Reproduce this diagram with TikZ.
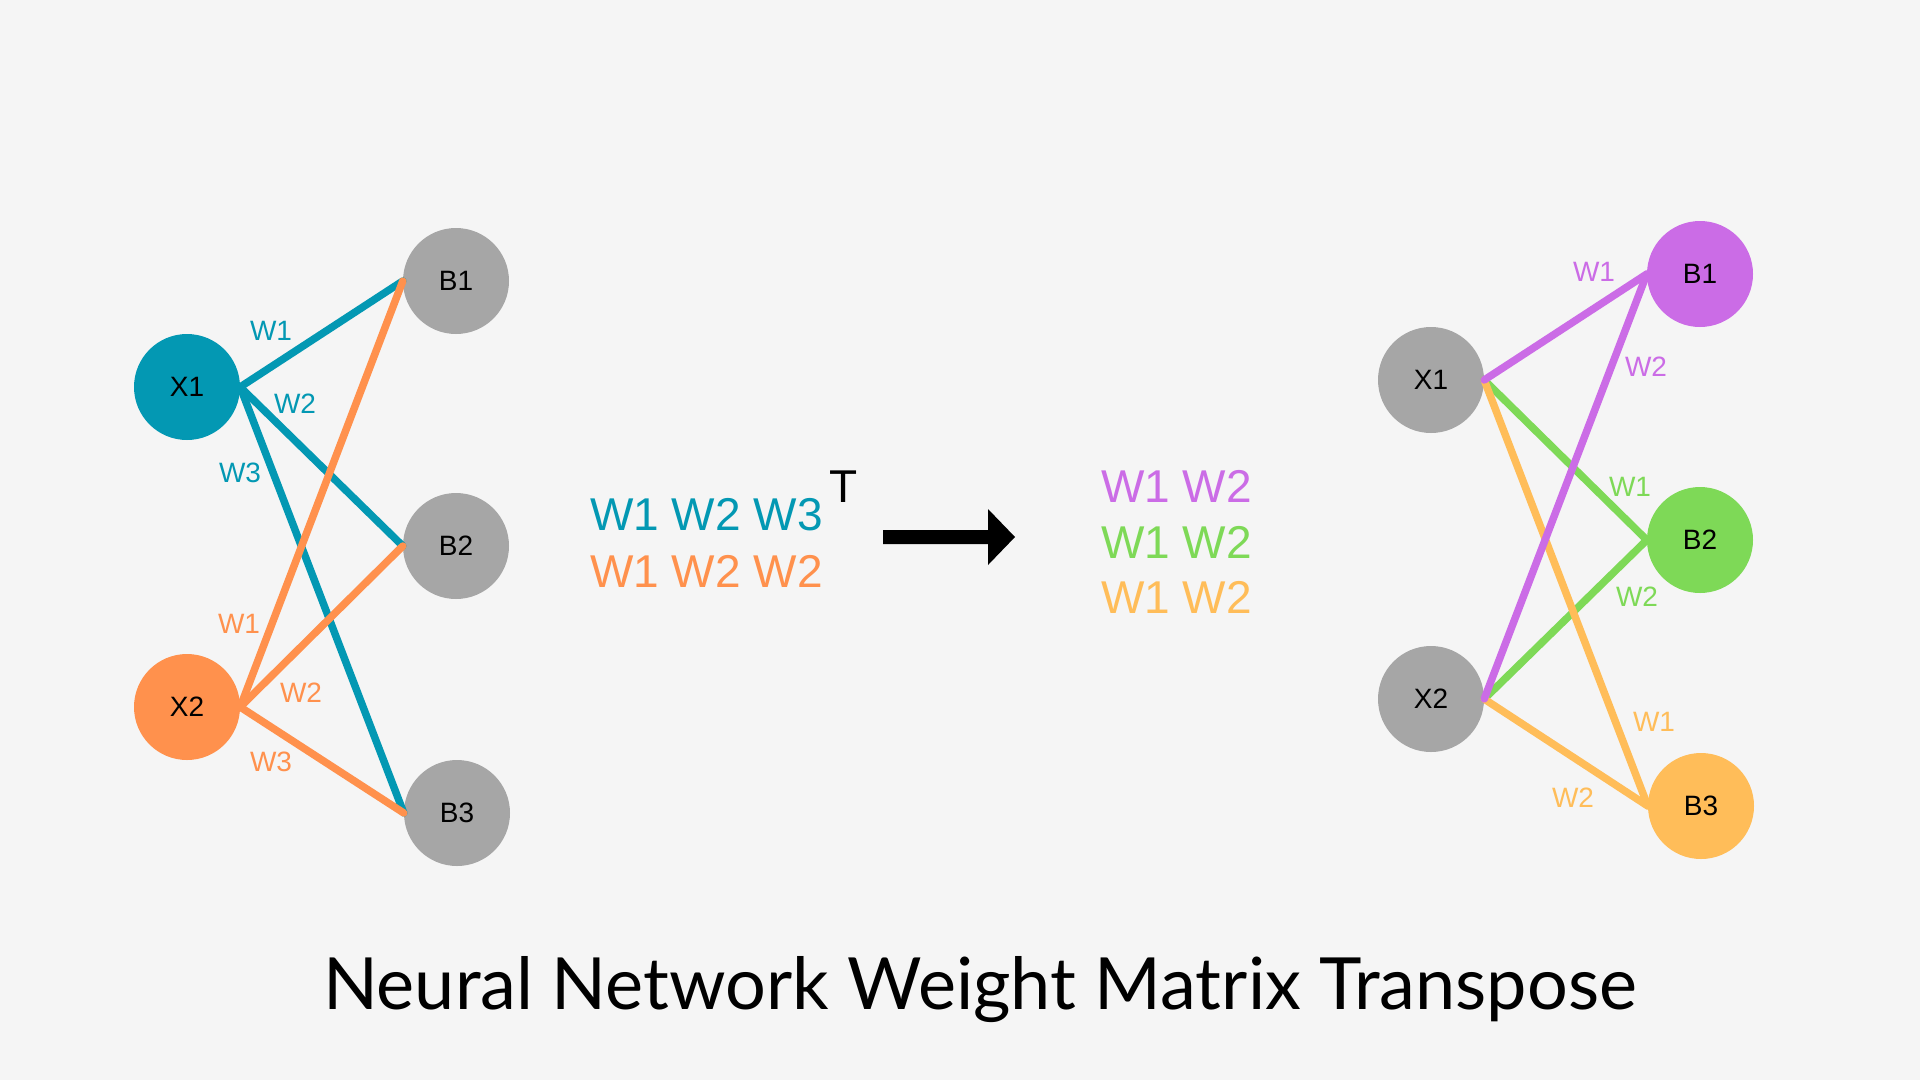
\documentclass[tikz,border=0pt]{standalone}
\usepackage{fontspec}
\setmainfont{Liberation Sans}
\newfontfamily\titlefont{Lato}
\definecolor{bgc}{HTML}{F5F5F5}
\definecolor{tealc}{HTML}{0398B3}
\definecolor{orangec}{HTML}{FF914D}
\definecolor{greyc}{HTML}{A6A6A6}
\definecolor{purplec}{HTML}{CB6CE6}
\definecolor{greenc}{HTML}{7ED957}
\definecolor{yellowc}{HTML}{FFBD59}
\tikzset{
  nd/.style={circle, minimum size=106pt, inner sep=0pt, font=\fontsize{28}{32}\selectfont, text=black},
  wlab/.style={inner sep=0pt, font=\fontsize{28}{32}\selectfont},
  mat/.style={inner sep=0pt, anchor=base west, font=\fontsize{46}{56}\selectfont},
  edge/.style={line width=7.5pt, line cap=round},
}
\begin{document}
\begin{tikzpicture}[x=1pt,y=-1pt]
\fill[bgc] (0,0) rectangle (1920,1080);
\useasboundingbox (0,0) rectangle (1920,1080);
% left network
\node[nd, fill=tealc] (lx1) at (187,387) {X1};
\node[nd, fill=orangec] (lx2) at (187,707) {X2};
\node[nd, fill=greyc] (lb1) at (456,281) {B1};
\node[nd, fill=greyc] (lb2) at (456,546) {B2};
\node[nd, fill=greyc] (lb3) at (457,813) {B3};
\draw[edge, tealc] (lx1.east) -- (lb1.west);
\draw[edge, tealc] (lx1.east) -- (lb2.west);
\draw[edge, tealc] (lx1.east) -- (lb3.west);
\draw[edge, orangec] (lx2.east) -- (lb1.west);
\draw[edge, orangec] (lx2.east) -- (lb2.west);
\draw[edge, orangec] (lx2.east) -- (lb3.west);
\node[wlab, text=tealc] (lt1) at (271,331) {W1};
\node[wlab, text=tealc] (lt2) at (295,404) {W2};
\node[wlab, text=tealc] (lt3) at (240,473) {W3};
\node[wlab, text=orangec] (lo1) at (239,624) {W1};
\node[wlab, text=orangec] (lo2) at (301,693) {W2};
\node[wlab, text=orangec] (lo3) at (271,762) {W3};
% matrix
\node[mat, text=tealc] (m1) at (590,530) {W1 W2 W3};
\node[mat, text=orangec] (m2) at (590,587) {W1 W2 W2};
\node[mat, text=black] (mt) at (829,502) {T};
% arrow
\coordinate (a0) at (883,530);
\coordinate (a1) at (988,530);
\coordinate (a2) at (988,509);
\coordinate (a3) at (1015,537);
\coordinate (a4) at (988,565);
\coordinate (a5) at (988,544);
\coordinate (a6) at (883,544);
\fill[black] (a0) -- (a1) -- (a2) -- (a3) -- (a4) -- (a5) -- (a6) -- cycle;
% transposed matrix
\node[mat, text=purplec] (r1) at (1101,502) {W1 W2};
\node[mat, text=greenc] (r2) at (1101,558) {W1 W2};
\node[mat, text=yellowc] (r3) at (1101,613) {W1 W2};
% right network
\node[nd, fill=greyc] (rx1) at (1431,380) {X1};
\node[nd, fill=greyc] (rx2) at (1431,699) {X2};
\node[nd, fill=purplec] (rb1) at (1700,274) {B1};
\node[nd, fill=greenc] (rb2) at (1700,540) {B2};
\node[nd, fill=yellowc] (rb3) at (1701,806) {B3};
\draw[edge, greenc] (rx1.east) -- (rb2.west);
\draw[edge, greenc] (rx2.east) -- (rb2.west);
\draw[edge, yellowc] (rx1.east) -- (rb3.west);
\draw[edge, yellowc] (rx2.east) -- (rb3.west);
\draw[edge, purplec] (rx1.east) -- (rb1.west);
\draw[edge, purplec] (rx2.east) -- (rb1.west);
\node[wlab, text=purplec] (rp1) at (1594,272) {W1};
\node[wlab, text=purplec] (rp2) at (1646,367) {W2};
\node[wlab, text=greenc] (rg1) at (1630,487) {W1};
\node[wlab, text=greenc] (rg2) at (1637,597) {W2};
\node[wlab, text=yellowc] (ry1) at (1654,722) {W1};
\node[wlab, text=yellowc] (ry2) at (1573,798) {W2};
% title
\node[inner sep=0pt, anchor=base, font=\titlefont\fontsize{72}{84}\selectfont] (title) at (980,1009) {Neural Network Weight Matrix Transpose};
\end{tikzpicture}
\end{document}
